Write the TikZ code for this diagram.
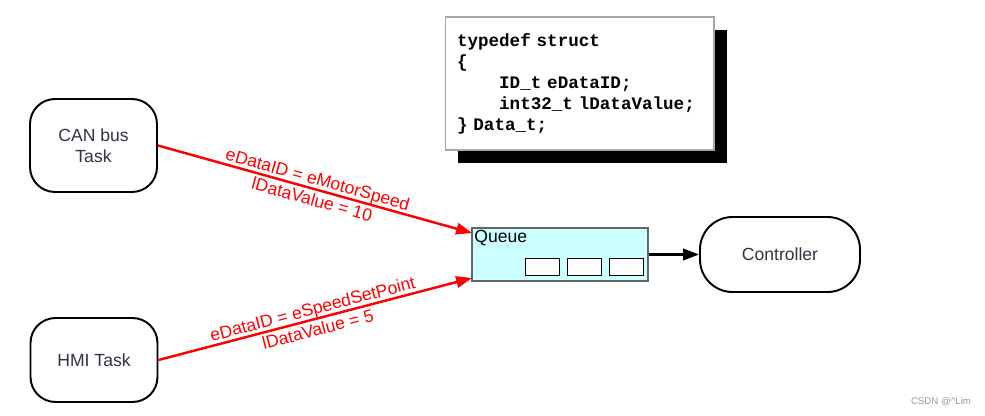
\documentclass[tikz,border=0pt]{standalone}
\usepackage{fontspec}
\setmainfont{Liberation Sans}
\setmonofont{Liberation Mono}
\usepackage{xcolor}
\usetikzlibrary{arrows.meta,shadows}
\definecolor{queuefill}{HTML}{CCFFFF}
\definecolor{textgray}{HTML}{2F3440}
\definecolor{msgred}{HTML}{FF0000}

\begin{document}
\begin{tikzpicture}[x=0.02cm, y=-0.02cm, every node/.style={font=\fontsize{10}{12}\selectfont, text=textgray},
  task/.style={draw=black, line width=1.1pt, fill=white, align=center, minimum width=2.54cm, rounded corners=0.5cm},
  slot/.style={draw=black, line width=0.5pt, fill=white, minimum width=0.68cm, minimum height=0.34cm, inner sep=0pt},
  msg/.style={draw=msgred, line width=1.4pt, -{Triangle[length=9pt,width=6.5pt]}}]
  \useasboundingbox (0,0) rectangle (985,416);

  \node (code) at (579.5,83.5) [draw=gray!70, fill=white, line width=0.6pt, minimum width=5.38cm, minimum height=2.66cm, text width=4.9cm, align=left, text=black, font=\ttfamily\bfseries\fontsize{10}{12}\selectfont, drop shadow={shadow xshift=0.26cm, shadow yshift=-0.26cm, opacity=1, fill=black}] {typedef struct\\ \{\\ \hspace*{2.4em}ID\_t eDataID;\\ \hspace*{2.4em}int32\_t lDataValue;\\ \} Data\_t;};

  \node (can) at (93.5,145.5) [task, minimum height=1.86cm] {CAN bus\\Task};
  \node (hmi) at (94,360) [task, minimum height=1.68cm] {HMI Task};
  \node (Q) at (560,254.5) [draw=gray!80!black, line width=0.6pt, fill=queuefill, minimum width=3.52cm, minimum height=1.06cm] {};
  \node (qname) at (Q.north west) [anchor=north west, inner sep=1.5pt, text=black] {Queue};
  \node (s1) at (542,266.5) [slot] {};
  \node (s2) at (584,266.5) [slot] {};
  \node (s3) at (626,266.5) [slot] {};
  \node (ctrl) at (780,254.5) [task, minimum width=3.2cm, minimum height=1.5cm, rounded corners=0.65cm] {Controller};
  \node (mark) at (941,402) [font=\fontsize{5.5}{6}\selectfont, text=gray!80] {CSDN @\textasciicircum Lim};

  \coordinate (inA) at (472,233);
  \coordinate (inB) at (472,278);

  \draw[msg] (can.east) -- (inA) node[midway, sloped, align=center, text=msgred] {eDataID = eMotorSpeed\\lDataValue = 10};
  \draw[msg] (hmi.east) -- (inB) node[midway, sloped, align=center, text=msgred] {eDataID = eSpeedSetPoint\\lDataValue = 5};
  \draw[line width=1.2pt, -{Triangle[length=9pt,width=6.5pt]}] (Q.east) -- (ctrl.west);
\end{tikzpicture}
\end{document}
